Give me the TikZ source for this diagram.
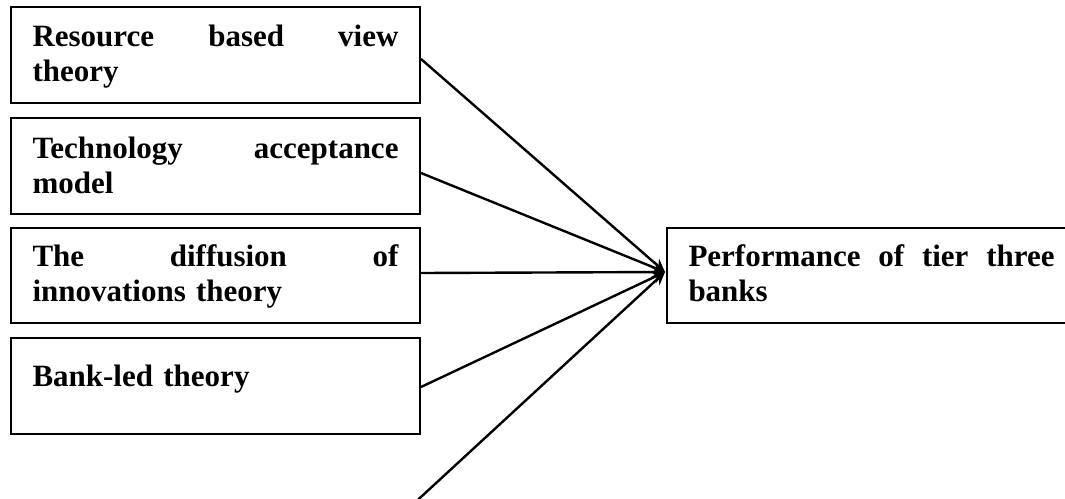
\documentclass[tikz,border=0pt]{standalone}
\usepackage{fontspec}
\setmainfont{Liberation Serif}
\usetikzlibrary{arrows.meta,calc}
\begin{document}
\begin{tikzpicture}[x=1pt,y=-1pt,
  theorybox/.style={draw, line width=2pt, anchor=north west, inner xsep=21.5pt, inner ysep=0pt,
    text width=366pt, align=left, font=\bfseries\fontsize{31}{35}\selectfont},
  link/.style={line width=2.4pt, -{Stealth[length=13pt,width=12pt]}}]
\useasboundingbox (0,0) rectangle (1065,498);
\node[theorybox, text height=39pt, text depth=57pt] (b1) at (10,6) {Resource\hfill based\hfill view\\theory};
\node[theorybox, text height=40pt, text depth=56pt] (b2) at (10,117) {Technology\hfill acceptance\\model};
\node[theorybox, text height=38pt, text depth=57pt] (b3) at (10,227) {The\hfill diffusion\hfill of\\innovations theory};
\node[theorybox, text height=48pt, text depth=48pt] (b4) at (10,337) {Bank-led theory};
\node[theorybox, text height=38pt, text depth=57pt] (perf) at (666,227) {Performance\hfill of\hfill tier\hfill three\\banks};
\coordinate (tip) at (665,272);
\coordinate (low) at (409,508);
\draw[link] ([yshift=-4pt]b1.east) -- (tip);
\draw[link] ([yshift=-7pt]b2.east) -- (tip);
\draw[link] ([yshift=2.5pt]b3.east) -- (tip);
\draw[link] ([yshift=-1pt]b4.east) -- (tip);
\draw[link] (low) -- (tip);
\end{tikzpicture}
\end{document}
